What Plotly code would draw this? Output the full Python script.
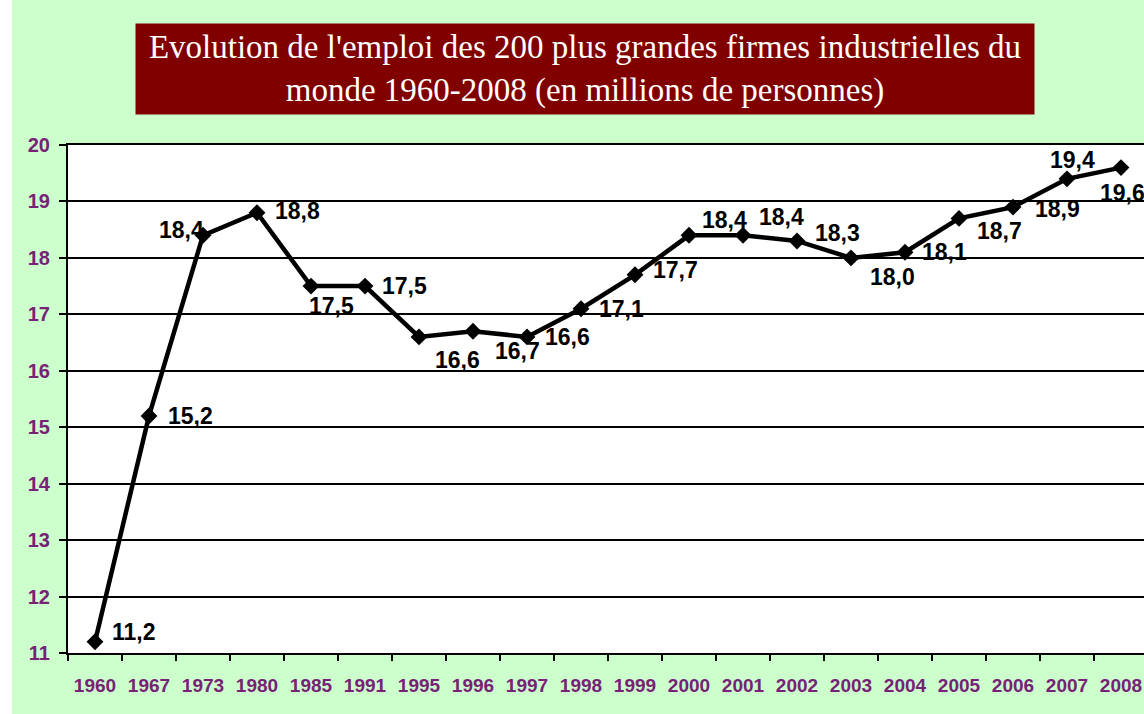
import plotly.graph_objects as go

years = ["1960", "1967", "1973", "1980", "1985", "1991", "1995", "1996", "1997", "1998",
         "1999", "2000", "2001", "2002", "2003", "2004", "2005", "2006", "2007", "2008"]
employment = [11.2, 15.2, 18.4, 18.8, 17.5, 17.5, 16.6, 16.7, 16.6, 17.1,
              17.7, 18.4, 18.4, 18.3, 18.0, 18.1, 18.7, 18.9, 19.4, 19.6]
y_ticks = [11, 12, 13, 14, 15, 16, 17, 18, 19, 20]

# label offsets in pixels (style only)
label_dx = [15, 17, -46, 16, -4, 15, 14, 20, 16, 16, 16, 11, 14, 16, 17, 15, 16, 20, -19, -23]
label_dy = [10, 0, 5, 2, -20, 0, -23, -20, 0, 0, 5, 15, 18, 8, -19, 0, -13, -2, 19, -25]

W, H = 1144, 714
L, R, T, B = 68, 0, 145, 61
PW, PH = W - L - R, H - T - B


def px(x):
    return (x - L) / PW


def py(y):
    return (H - B - y) / PH


fig = go.Figure()
fig.add_trace(go.Scatter(
    x=years, y=employment, mode="lines+markers",
    line=dict(color="black", width=4.5),
    marker=dict(symbol="diamond", size=13, color="black"),
    hoverinfo="x+y", showlegend=False,
))

annotations = []
for i, (v, dx, dy) in enumerate(zip(employment, label_dx, label_dy)):
    annotations.append(dict(
        x=i, y=v, xref="x", yref="y", text=f"<b>{v:.1f}</b>".replace(".", ","),
        showarrow=False, xanchor="left", yanchor="middle", xshift=dx, yshift=dy,
        font=dict(family="Liberation Sans, Arial, sans-serif", size=23, color="black"),
    ))

annotations.append(dict(
    x=px((137 + 1033) / 2), y=py((25 + 113) / 2), xref="paper", yref="paper",
    xanchor="center", yanchor="middle", showarrow=False,
    text="Evolution de l'emploi des 200 plus grandes firmes industrielles du<br>monde 1960-2008 (en millions de personnes)",
    font=dict(family="Liberation Serif, Times New Roman, serif", size=33, color="white"),
    bgcolor="#800000", width=896, height=88, align="center",
))

fig.update_layout(
    width=W, height=H,
    margin=dict(l=L, r=R, t=T, b=B, pad=0),
    paper_bgcolor="#CCFFCC", plot_bgcolor="white",
    annotations=annotations,
    shapes=[dict(type="rect", xref="paper", yref="paper",
                 x0=px(0), x1=px(12), y0=py(H), y1=py(0),
                 fillcolor="white", line=dict(width=0), layer="below")],
    xaxis=dict(
        type="category", range=[-0.5, -0.5 + PW / 54],
        showgrid=False, showline=True, linecolor="black", linewidth=2, mirror=True,
        ticks="outside", tickson="boundaries", ticklen=6, tickcolor="black", tickwidth=2,
        ticklabelstandoff=14,
        tickvals=years, ticktext=[f"<b>{y}</b>" for y in years],
        tickfont=dict(family="Liberation Sans, Arial, sans-serif", size=19, color="#772277"),
        fixedrange=True,
    ),
    yaxis=dict(
        range=[11, 20], tickvals=y_ticks, ticktext=[f"<b>{t}</b>" for t in y_ticks],
        showgrid=True, gridcolor="black", gridwidth=1.5,
        showline=True, linecolor="black", linewidth=2, zeroline=False,
        ticks="outside", ticklen=7, tickcolor="black", tickwidth=2,
        ticklabelstandoff=5,
        tickfont=dict(family="Liberation Sans, Arial, sans-serif", size=20, color="#772277"),
        fixedrange=True,
    ),
)

fig.write_html("out.html", config={"displayModeBar": False},
               post_script="document.body.style.margin='0';document.body.style.overflow='hidden';")
